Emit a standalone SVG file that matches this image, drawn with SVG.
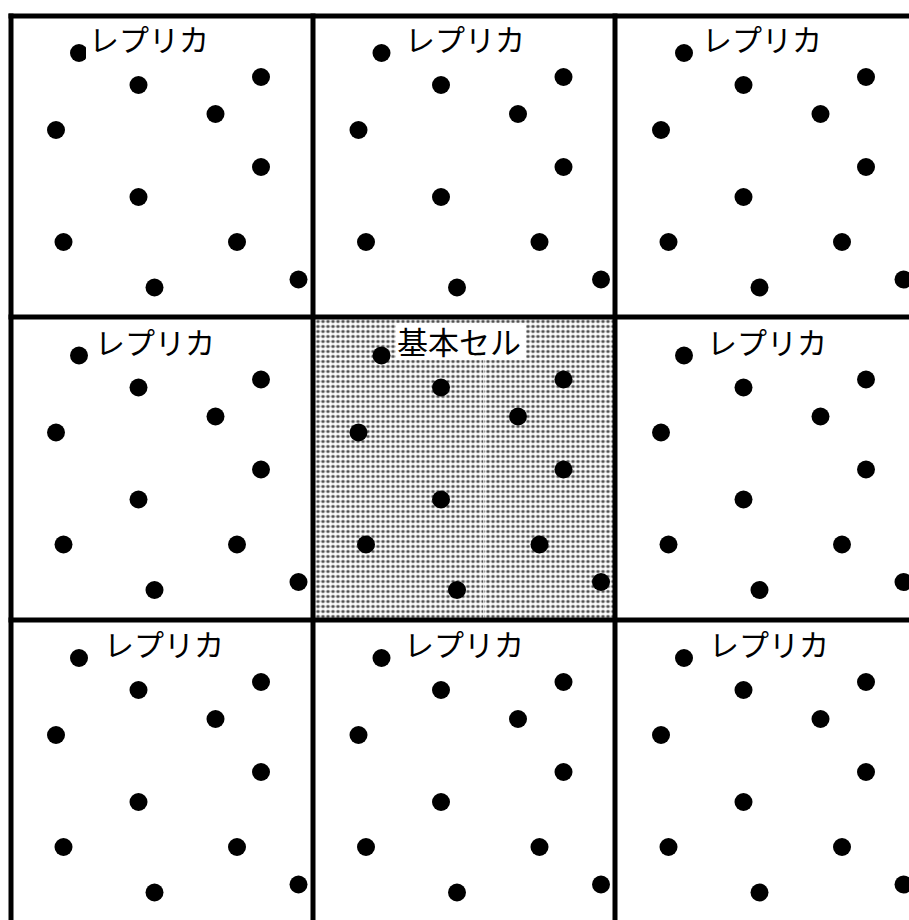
<svg xmlns="http://www.w3.org/2000/svg" xmlns:xlink="http://www.w3.org/1999/xlink" width="909" height="920" viewBox="0 0 909 920">
<style>
.grid{fill:none;stroke:#000;stroke-width:5}
.lbl{font-family:"Noto Sans CJK JP","Noto Sans CJK SC",sans-serif;font-size:30px;fill:#000}
.lblbg{fill:#fff}
.dot{fill:#000}
.seam{stroke:#fff;stroke-width:1;opacity:0.7}
</style>
<defs>
<pattern id="halftone" patternUnits="userSpaceOnUse" x="315.5" y="319" width="5" height="5">
<rect width="5" height="5" fill="#fff"/>
<circle cx="2.5" cy="2.5" r="2.1" fill="#bbb"/>
<circle cx="2.5" cy="2.5" r="1.3" fill="#444"/>
</pattern>
<g id="dots">
<circle class="dot" cx="79" cy="53" r="9"/>
<circle class="dot" cx="138.5" cy="85" r="9"/>
<circle class="dot" cx="261" cy="77" r="9"/>
<circle class="dot" cx="215.5" cy="114" r="9"/>
<circle class="dot" cx="56" cy="130" r="9"/>
<circle class="dot" cx="261" cy="167" r="9"/>
<circle class="dot" cx="138.5" cy="197" r="9"/>
<circle class="dot" cx="63.5" cy="242" r="9"/>
<circle class="dot" cx="237" cy="242" r="9"/>
<circle class="dot" cx="154.5" cy="287.5" r="9"/>
<circle class="dot" cx="298.5" cy="279.5" r="9"/>
</g>
</defs>
<rect width="909" height="920" fill="#fff"/>

<g id="cell-r0c0">
<use xlink:href="#dots" href="#dots"/>
<rect class="lblbg" x="86" y="22" width="128" height="36"/>
<text class="lbl" x="89" y="50.5">レプリカ</text>
</g>
<g id="cell-r0c1">
<use xlink:href="#dots" href="#dots" transform="translate(302.5,0)"/>
<text class="lbl" x="405" y="50.5">レプリカ</text>
</g>
<g id="cell-r0c2">
<use xlink:href="#dots" href="#dots" transform="translate(605,0)"/>
<text class="lbl" x="702" y="50.5">レプリカ</text>
</g>

<g id="cell-r1c0">
<use xlink:href="#dots" href="#dots" transform="translate(0,302.5)"/>
<text class="lbl" x="95" y="354">レプリカ</text>
</g>
<g id="cell-r1c1">
<rect x="313" y="317" width="302" height="303" fill="url(#halftone)"/>
<line class="seam" x1="315" y1="359" x2="613" y2="359"/>
<line class="seam" x1="483.5" y1="359" x2="483.5" y2="618"/>
<use xlink:href="#dots" href="#dots" transform="translate(302.5,302.5)"/>
<rect class="lblbg" x="396" y="323" width="130" height="37"/>
<text class="lbl" x="397" y="354" style="font-size:31px">基本セル</text>
</g>
<g id="cell-r1c2">
<use xlink:href="#dots" href="#dots" transform="translate(605,302.5)"/>
<text class="lbl" x="707" y="354">レプリカ</text>
</g>

<g id="cell-r2c0">
<use xlink:href="#dots" href="#dots" transform="translate(0,605)"/>
<text class="lbl" x="104" y="655.5">レプリカ</text>
</g>
<g id="cell-r2c1">
<use xlink:href="#dots" href="#dots" transform="translate(302.5,605)"/>
<text class="lbl" x="404" y="655.5">レプリカ</text>
</g>
<g id="cell-r2c2">
<use xlink:href="#dots" href="#dots" transform="translate(605,605)"/>
<text class="lbl" x="709" y="655.5">レプリカ</text>
</g>

<g id="connectors">
<line class="grid" x1="11" y1="13.5" x2="11" y2="920"/>
<line class="grid" x1="313" y1="13.5" x2="313" y2="920"/>
<line class="grid" x1="615" y1="13.5" x2="615" y2="920"/>
<line class="grid" x1="8.5" y1="16" x2="909" y2="16"/>
<line class="grid" x1="8.5" y1="317" x2="909" y2="317"/>
<line class="grid" x1="8.5" y1="620" x2="909" y2="620"/>
</g>
</svg>
